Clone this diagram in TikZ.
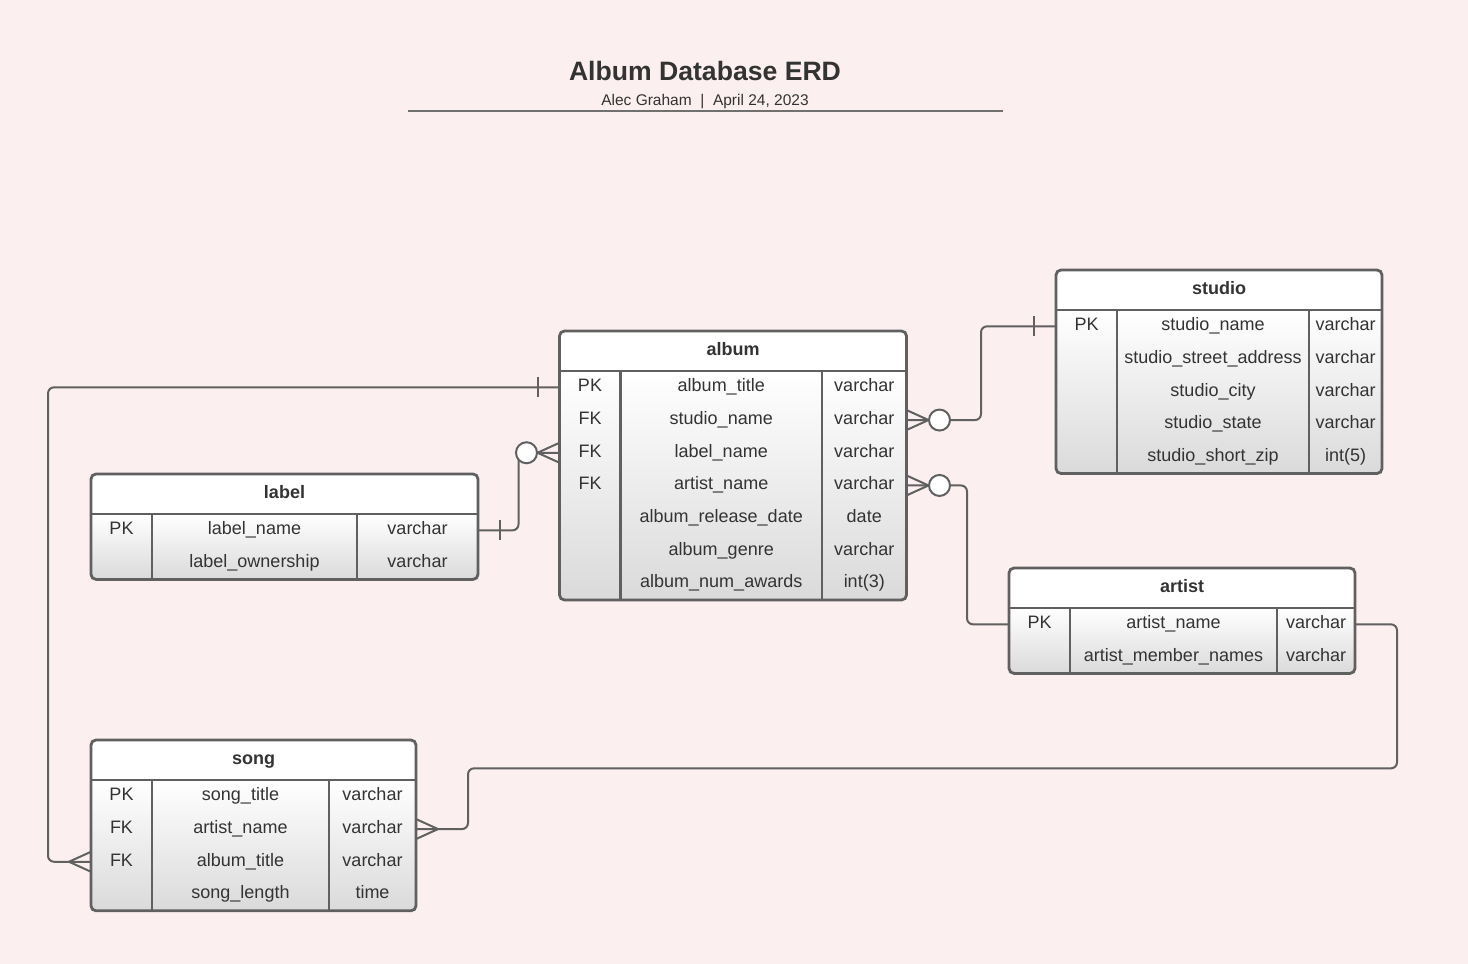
\documentclass[tikz,border=0pt]{standalone}
\usepackage{fontspec}
\setmainfont{Liberation Sans}
\usetikzlibrary{calc,positioning}
\definecolor{PageTint}{RGB}{252,239,239}
\definecolor{EdgeGray}{RGB}{96,96,96}
\definecolor{InkGray}{RGB}{51,51,51}
\definecolor{BodyGray}{RGB}{218,218,218}
\tikzset{
  erdbox/.style={rectangle, rounded corners=5pt, fill=white, inner sep=0pt, outer sep=0pt},
  erdshade/.style={top color=white, bottom color=BodyGray, rounded corners=5pt},
  erdframe/.style={draw=EdgeGray, line width=2.8pt, rounded corners=5pt},
  erdtitle/.style={font=\fontsize{18}{20}\selectfont\bfseries, text=InkGray,
    text height=12.9pt, text depth=4.3pt, inner sep=0pt},
  erdtext/.style={font=\fontsize{18}{20}\selectfont, text=InkGray,
    text height=12.9pt, text depth=4.3pt, inner sep=0pt},
  relline/.style={draw=EdgeGray, line width=2pt, rounded corners=6pt},
  crowfoot/.pic={\draw[relline, rounded corners=0pt] (0,-10) -- (-22,0) -- (0,10);},
  onebar/.pic={\draw[relline] (-22,-10) -- (-22,10);},
  zeroring/.pic={\draw[relline, fill=white] (-33,0) circle (10.5pt);}
}
% name, left, top, width, height, divider 1, divider 2, title, rows
\newcommand{\erdtable}[9]{%
  \node[erdbox, minimum width=#4pt, minimum height=#5pt, anchor=north west] (#1) at (#2,#3) {};
  \shade[erdshade] ($(#1.north west)+(0,40)$) rectangle (#1.south east);
  \node[erdtitle] at ($(#1.north)+(0,20)$) {#8};
  \draw[erdframe] (#1.north west) rectangle (#1.south east);
  \draw[erdframe] ($(#1.north west)+(0,40)$) -- ($(#1.north east)+(0,40)$);
  \draw[erdframe] (#6,#3+40) -- (#6,#3+#5);
  \draw[erdframe] (#7,#3+40) -- (#7,#3+#5);
  \foreach \k/\f/\t [count=\i] in {#9} {
    \node[erdtext] (#1-\i) at ({(#2+#6)/2},{#3+56.35+32.7*(\i-1)}) {\k};
    \node[erdtext] at ({(#6+#7)/2},{#3+56.35+32.7*(\i-1)}) {\f};
    \node[erdtext] at ({(#7+#2+#4)/2},{#3+56.35+32.7*(\i-1)}) {\t};
  }%
}

\begin{document}
\begin{tikzpicture}[x=1pt, y=-1pt]
  \fill[PageTint] (0,0) rectangle (1468,964);
  \useasboundingbox (0,0) rectangle (1468,964);

  % heading
  \node[font=\fontsize{26.6}{30}\selectfont\bfseries, text=InkGray, anchor=base] (title) at (705,80) {Album Database ERD};
  \node[font=\fontsize{15.5}{18}\selectfont, text=InkGray, anchor=base] (byline) at (705,105) {Alec Graham\ \ |\ \ April 24, 2023};
  \draw[draw=EdgeGray!90, line width=2pt] (408,110.5) -- (1003,110.5);

  % tables
  \erdtable{album}{559.5}{331}{347}{269}{620.5}{822}{album}{PK/album\_title/varchar, FK/studio\_name/varchar, FK/label\_name/varchar, FK/artist\_name/varchar, /album\_release\_date/date, /album\_genre/varchar, /album\_num\_awards/int(3)}
  \erdtable{studio}{1056}{270}{326}{203.5}{1117}{1309}{studio}{PK/studio\_name/varchar, /studio\_street\_address/varchar, /studio\_city/varchar, /studio\_state/varchar, /studio\_short\_zip/int(5)}
  \erdtable{label}{91}{474}{387}{105.4}{152}{357}{label}{PK/label\_name/varchar, /label\_ownership/varchar}
  \erdtable{artist}{1009}{568}{346}{105.4}{1070}{1277}{artist}{PK/artist\_name/varchar, /artist\_member\_names/varchar}
  \erdtable{song}{91}{740}{325}{170.8}{152}{329}{song}{PK/song\_title/varchar, FK/artist\_name/varchar, FK/album\_title/varchar, /song\_length/time}

  % relationships
  \draw[relline] (album.west |- album-1) -| ($(song.west |- song-3)+(-43,0)$) -- (song.west |- song-3);
  \pic at (album.west |- album-1) {onebar};
  \pic at (song.west |- song-3) {crowfoot};

  \draw[relline] (label.east |- label-1) -| ($(album.west |- album-3)+(-41,0)$) -- (album.west |- album-3);
  \pic[xscale=-1] at (label.east |- label-1) {onebar};
  \pic at (album.west |- album-3) {crowfoot};
  \pic at (album.west |- album-3) {zeroring};

  \draw[relline] (album.east |- album-2) -| ($(studio.west |- studio-1)+(-75,0)$) -- (studio.west |- studio-1);
  \pic[xscale=-1] at (album.east |- album-2) {crowfoot};
  \pic[xscale=-1] at (album.east |- album-2) {zeroring};
  \pic at (studio.west |- studio-1) {onebar};

  \draw[relline] (album.east |- album-4) -| ($(artist.west |- artist-1)+(-42,0)$) -- (artist.west |- artist-1);
  \pic[xscale=-1] at (album.east |- album-4) {crowfoot};
  \pic[xscale=-1] at (album.east |- album-4) {zeroring};

  \draw[relline] (artist.east |- artist-1) -| ++(42,144) -| ($(song.east |- song-2)+(52,0)$) -- (song.east |- song-2);
  \pic[xscale=-1] at (song.east |- song-2) {crowfoot};
\end{tikzpicture}
\end{document}
